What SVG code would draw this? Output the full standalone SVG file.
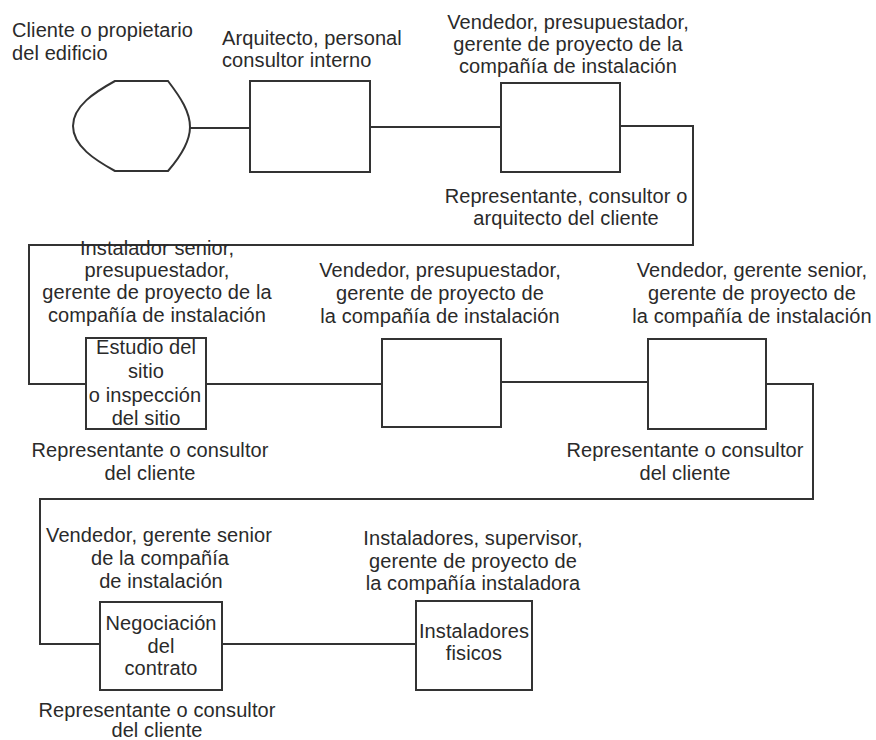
<svg xmlns="http://www.w3.org/2000/svg" width="876" height="740" viewBox="0 0 876 740">
<style>
.bg{fill:#ffffff}
.shape{fill:#ffffff;stroke:#333333;stroke-width:2}
.conn{fill:none;stroke:#333333;stroke-width:2}
text{font-family:"Liberation Sans",Arial,sans-serif;font-size:20px;letter-spacing:0.1px;fill:#2a2a2a}
.c{text-anchor:middle}
</style>
<rect class="bg" x="0" y="0" width="876" height="740"/>
<g id="connectors">
<line class="conn" x1="190" y1="128" x2="250" y2="128"/>
<line class="conn" x1="370" y1="127" x2="501" y2="127"/>
<polyline class="conn" points="620,126 693,126 693,245 29,245 29,384 86,384"/>
<line class="conn" x1="206" y1="384" x2="382" y2="384"/>
<line class="conn" x1="501" y1="382" x2="648" y2="382"/>
<polyline class="conn" points="766,384 813,384 813,499 40,499 40,644 100,644"/>
<line class="conn" x1="222" y1="644" x2="416" y2="644"/>
</g>
<g id="cliente">
<path class="shape" d="M115,81 H168 C181,98 190,112 190,127 C190,142 181,156 168,171 H115 C95,160 73,146 73,126 C73,106 95,92 115,81 Z"/>
<text x="12" y="37">Cliente o propietario</text>
<text x="12" y="60">del edificio</text>
</g>
<g id="arquitecto">
<rect class="shape" x="250" y="81" width="120" height="91"/>
<text x="222" y="45">Arquitecto, personal</text>
<text x="222" y="67">consultor interno</text>
</g>
<g id="vendedor1">
<rect class="shape" x="501" y="83" width="119" height="89"/>
<text class="c" x="568" y="29">Vendedor, presupuestador,</text>
<text class="c" x="568" y="51">gerente de proyecto de la</text>
<text class="c" x="568" y="73">compañía de instalación</text>
<text class="c" x="566" y="203">Representante, consultor o</text>
<text class="c" x="566" y="225">arquitecto del cliente</text>
</g>
<g id="estudio">
<rect class="shape" x="86" y="338" width="120" height="91"/>
<text class="c" x="157" y="255">Instalador senior,</text>
<text class="c" x="157" y="277">presupuestador,</text>
<text class="c" x="157" y="299">gerente de proyecto de la</text>
<text class="c" x="157" y="322">compañía de instalación</text>
<text class="c" x="146" y="354">Estudio del</text>
<text class="c" x="146" y="378">sitio</text>
<text class="c" x="145" y="402">o inspección</text>
<text class="c" x="146" y="425">del sitio</text>
<text class="c" x="150" y="457">Representante o consultor</text>
<text class="c" x="150" y="480">del cliente</text>
</g>
<g id="vendedor2">
<rect class="shape" x="382" y="339" width="119" height="88"/>
<text class="c" x="440" y="277">Vendedor, presupuestador,</text>
<text class="c" x="440" y="300">gerente de proyecto de</text>
<text class="c" x="440" y="323">la compañía de instalación</text>
</g>
<g id="vendedor3">
<rect class="shape" x="648" y="339" width="118" height="90"/>
<text class="c" x="752" y="277">Vendedor, gerente senior,</text>
<text class="c" x="752" y="300">gerente de proyecto de</text>
<text class="c" x="752" y="323">la compañía de instalación</text>
<text class="c" x="685" y="457">Representante o consultor</text>
<text class="c" x="685" y="480">del cliente</text>
</g>
<g id="negociacion">
<rect class="shape" x="100" y="602" width="122" height="88"/>
<text class="c" x="159" y="542">Vendedor, gerente senior</text>
<text class="c" x="160" y="565">de la compañía</text>
<text class="c" x="161" y="588">de instalación</text>
<text class="c" x="161" y="630">Negociación</text>
<text class="c" x="161" y="653">del</text>
<text class="c" x="161" y="675">contrato</text>
<text class="c" x="157" y="717">Representante o consultor</text>
<text class="c" x="157" y="737">del cliente</text>
</g>
<g id="instaladores">
<rect class="shape" x="416" y="601" width="116" height="89"/>
<text class="c" x="473" y="545">Instaladores, supervisor,</text>
<text class="c" x="473" y="568">gerente de proyecto de</text>
<text class="c" x="473" y="590">la compañía instaladora</text>
<text class="c" x="474" y="638">Instaladores</text>
<text class="c" x="474" y="660">fisicos</text>
</g>
</svg>
